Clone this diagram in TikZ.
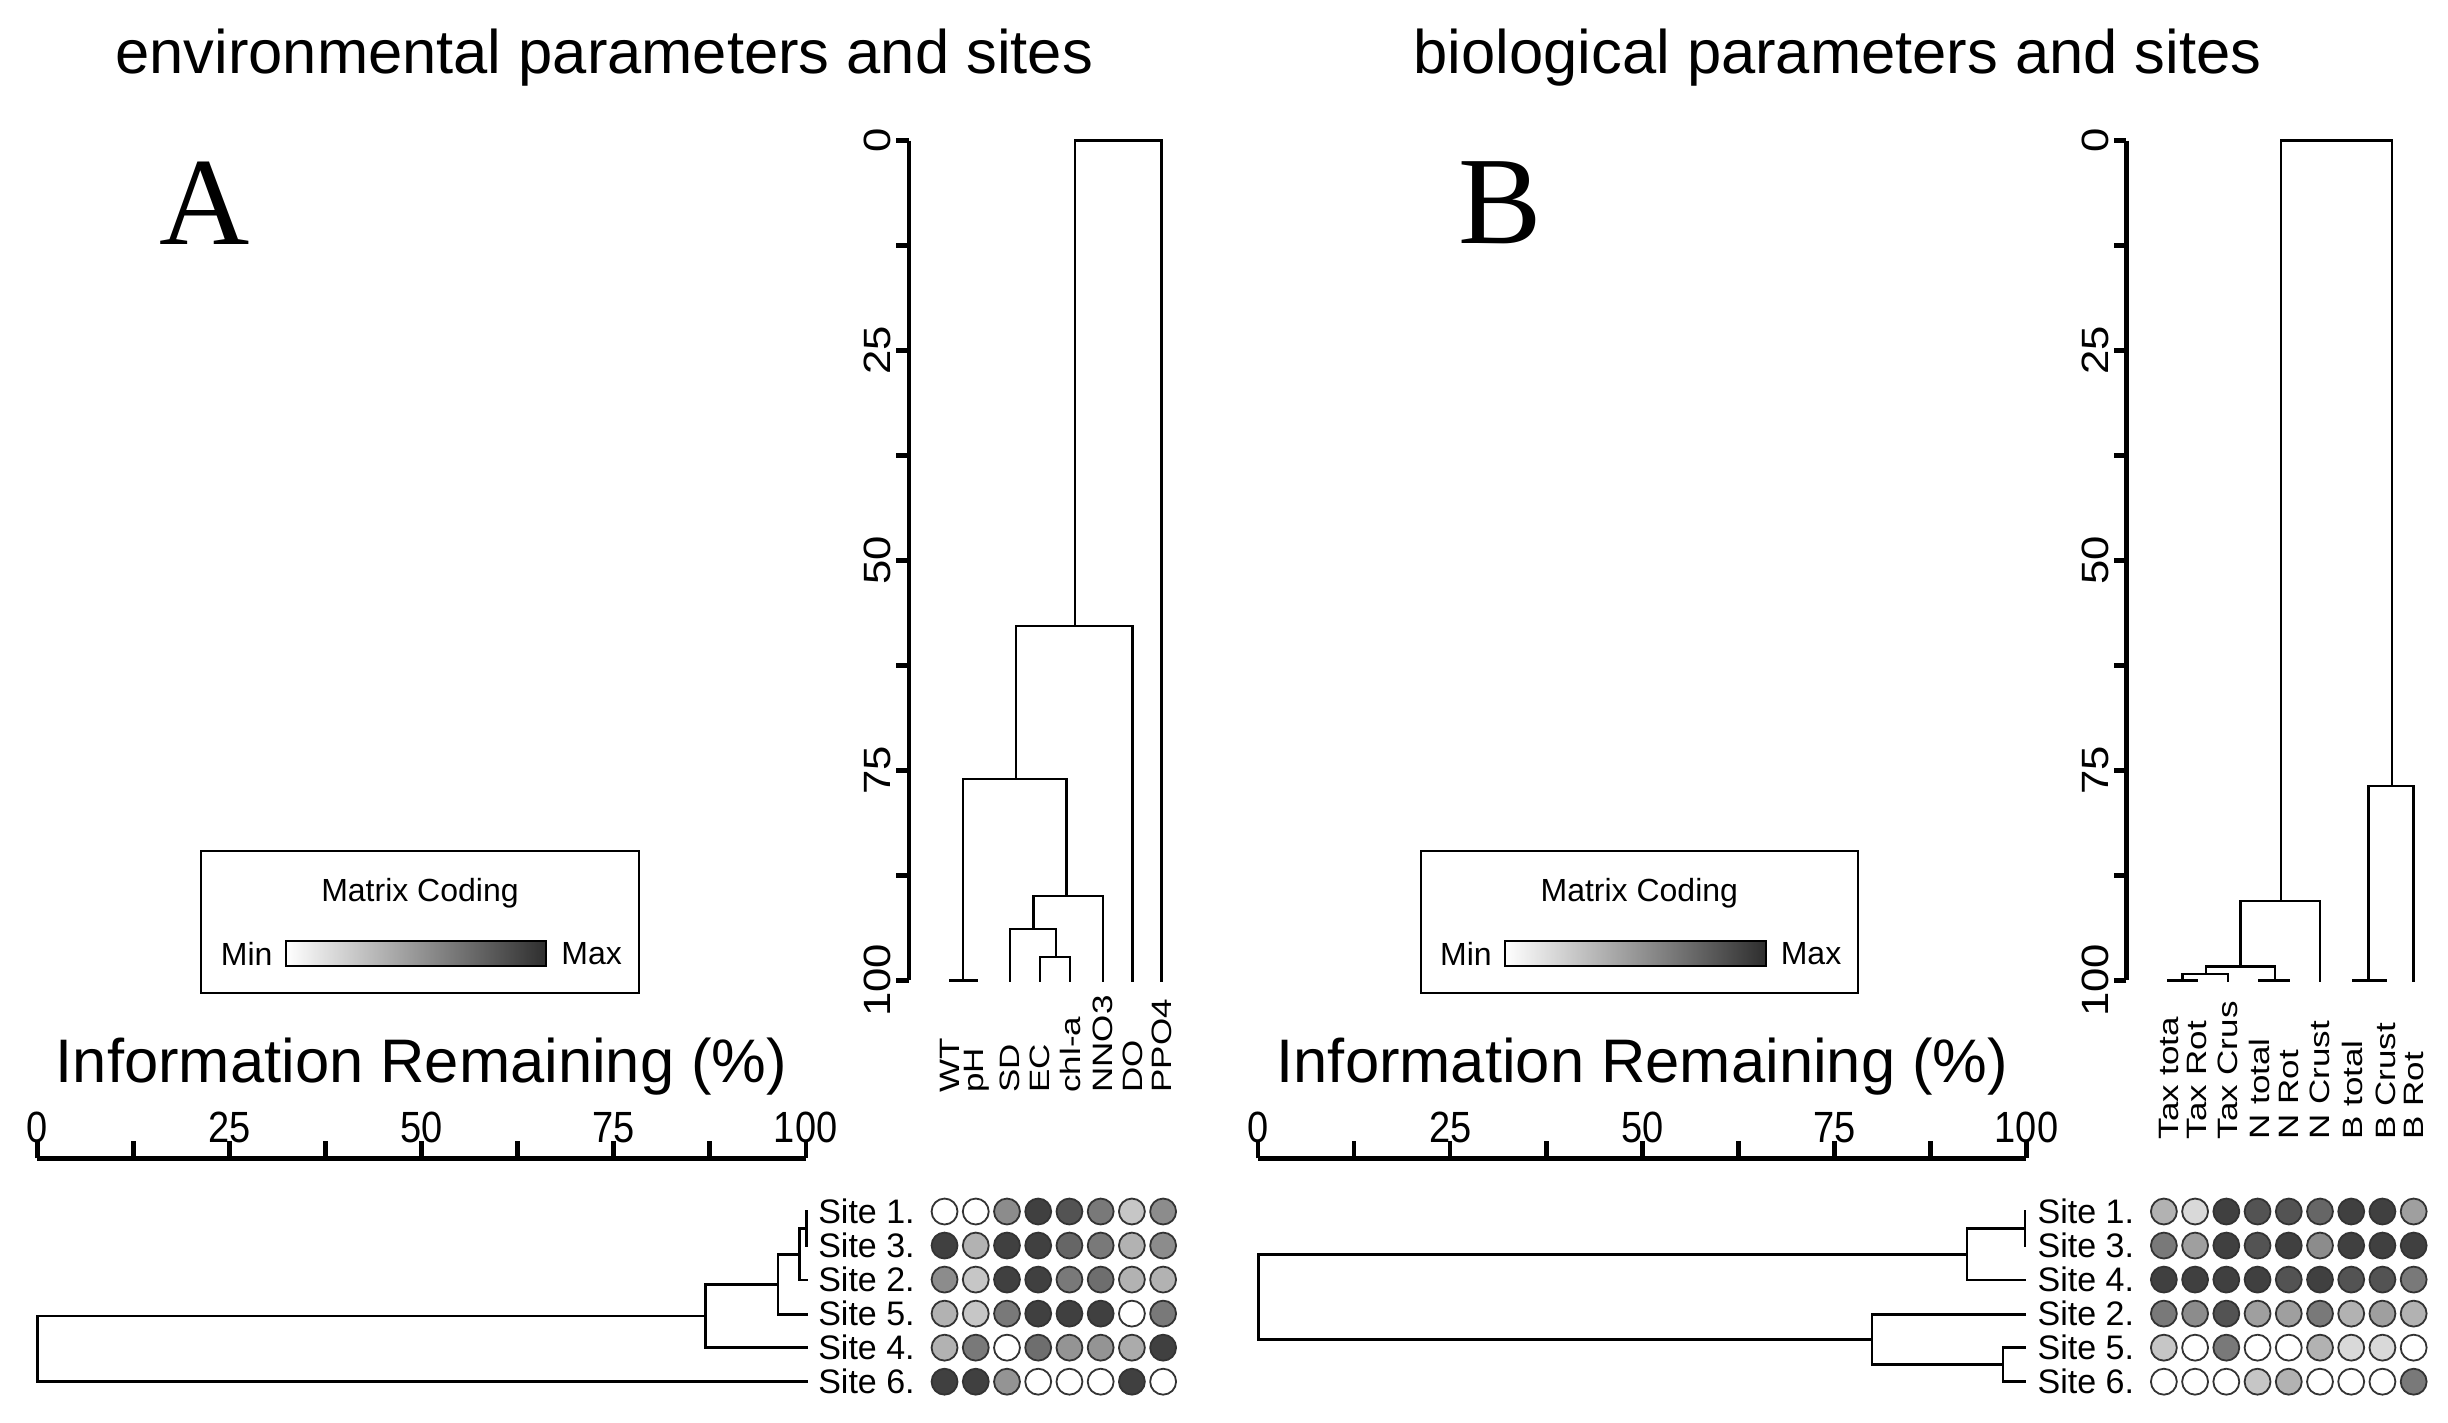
\documentclass[tikz,border=0pt]{standalone}
\usepackage{fontspec}
\setmainfont{Liberation Sans}
\newfontfamily\serifA{Liberation Serif}
\begin{document}
\begin{tikzpicture}[x=1.5612pt,y=-1.5612pt,
  dend/.style={line width=2.4pt,line cap=rect},
  ax/.style={line width=4.2pt},
  title/.style={font=\fontsize{61.5pt}{64pt}\selectfont},
  big/.style={font=\fontsize{61.5pt}{64pt}\selectfont},
  tick/.style={font=\fontsize{38pt}{40pt}\selectfont,inner sep=0pt,yscale=1.15},
  site/.style={font=\fontsize{34pt}{36pt}\selectfont,anchor=west,inner sep=0pt},
  par/.style={font=\fontsize{28pt}{30pt}\selectfont,anchor=west,rotate=90,inner sep=0pt,xscale=1.25},
  leg/.style={font=\fontsize{32pt}{34pt}\selectfont,inner sep=0pt},
  dot/.style={draw=black!80,line width=1.8pt}]
\useasboundingbox (0,0) rectangle (1568,911);
\fill[white] (0,0) rectangle (1568,911);
% titles
\node[title] (tA) at (387,37) {environmental parameters and sites};
\node[title] (tB) at (1177,37) {biological parameters and sites};
\node[font=\serifA\fontsize{125pt}{125pt}\selectfont] (lA) at (131,130) {A};
\node[font=\serifA\fontsize{125pt}{125pt}\selectfont] (lB) at (961,130) {B};
% legends
\foreach \ox/\nm in {0/A,781/B}{
  \begin{scope}[xshift=\ox*1.5612pt]
  \draw[line width=2pt] (129,545) rectangle (409,636);
  \node[leg] (mc\nm) at (269,572) {Matrix Coding};
  \node[leg] (mn\nm) at (158,611) {Min};
  \node[leg] (mx\nm) at (379,611) {Max};
  \shade[left color=white,right color=black!82] (183,603) rectangle (350,619);
  \draw[line width=2pt] (183,603) rectangle (350,619);
  \end{scope}}
% vertical axes
\foreach \axx/\nm in {582/A,1362/B}{
  \draw[ax] (\axx,90) -- (\axx,628);
  \foreach \k in {0,...,8} \draw[ax] (\axx,{90+\k*67.25}) -- ({\axx-8},{90+\k*67.25});
  \foreach \v/\k in {0/0,25/2,50/4,75/6,100/8}
    \node[tick,rotate=90] (va\nm\v) at ({\axx-20},{90+\k*67.25}) {\v};
}
% dendrogram A (vertical)
\draw[dend] (608.5,628)--(625.6,628) (617,628)--(617,499)--(683.2,499)--(683.2,574);
\draw[dend] (647,628)--(647,595)--(676.4,595)--(676.4,613);
\draw[dend] (666,628)--(666,613)--(685.4,613)--(685.4,628);
\draw[dend] (662,595)--(662,574)--(706.3,574)--(706.3,628);
\draw[dend] (650.8,499)--(650.8,401)--(725.5,401)--(725.5,628);
\draw[dend] (688.6,401)--(688.6,90)--(744,90)--(744,628);
% dendrogram B (vertical)
\draw[dend] (1389,628)--(1407,628) (1398,628)--(1398,624)--(1427,624)--(1427,628);
\draw[dend] (1413,624)--(1413,619)--(1457,619)--(1457,628) (1447,628)--(1466,628);
\draw[dend] (1435,619)--(1435,577)--(1486,577)--(1486,628);
\draw[dend] (1461,577)--(1461,90)--(1532,90)--(1532,503.5);
\draw[dend] (1517,628)--(1517,503.5)--(1546,503.5)--(1546,628) (1507,628)--(1528,628);
% parameter labels
\foreach \x/\t [count=\i] in {608.5/WT,625.6/pH,647/SD,666/EC,685.4/chl-a,706.3/NNO3,725.5/DO,744/PPO4}
  \node[par] (pa\i) at (\x,700) {\t};
\foreach \x/\t [count=\i] in {1389/Tax tota,1407/Tax Rot,1427/Tax Crus,1447/N total,1466/N Rot,1486/N Crust,1507/B total,1528/B Crust,1546/B Rot}
  \node[par] (pb\i) at (\x,730) {\t};
% bottom axes
\foreach \ox/\nm in {24/A,806/B}{
  \node[big] (ir\nm) at ({\ox+246},683) {Information Remaining (\%)};
  \draw[ax] (\ox,742) -- ({\ox+492},742);
  \foreach \k in {0,...,8} \draw[ax] ({\ox+\k*61.5},742) -- ({\ox+\k*61.5},731);
  \foreach \v/\k in {0/0,25/2,50/4,75/6,100/8}
    \node[tick] (ha\nm\v) at ({\ox+\k*61.5},722) {\v};
}
% bottom dendrogram A
\draw[dend] (516.5,776)--(516.5,798) (512,787)--(516.5,787) (512,787)--(512,820)--(516.5,820);
\draw[dend] (498.3,803.5)--(512,803.5) (498.3,803.5)--(498.3,842)--(516.5,842);
\draw[dend] (452,822.7)--(498.3,822.7) (452,822.7)--(452,863)--(516.5,863);
\draw[dend] (24,842.9)--(452,842.9) (24,842.9)--(24,885)--(516.5,885);
% bottom dendrogram B
\draw[dend] (1297,776)--(1297,798) (1260,787)--(1297,787) (1260,787)--(1260,820)--(1297,820);
\draw[dend] (1297,863)--(1283,863)--(1283,885)--(1297,885);
\draw[dend] (1199,874)--(1283,874) (1199,874)--(1199,842)--(1297,842);
\draw[dend] (806,803.5)--(1260,803.5) (806,803.5)--(806,858)--(1199,858);
% site labels
\foreach \t [count=\i] in {1,3,2,5,4,6}
  \node[site] (sa\i) at (524,{776+(\i-1)*21.8}) {Site \t.};
\foreach \t [count=\i] in {1,3,4,2,5,6}
  \node[site] (sb\i) at (1305,{776+(\i-1)*21.8}) {Site \t.};
% matrices
\foreach \row [count=\r] in {
  {0,0,3,5,4.5,3.5,1.5,3},
  {5,2,5,5,4,3.5,2,3},
  {3,1.5,5,5,3.5,3.8,2,2},
  {2,1.5,3.5,5,5,5,0,3.5},
  {2,3.5,0,3.8,2.8,2.8,2.2,5},
  {5,5,2.8,0,0,0,5,0}}{
  \foreach \L [count=\c] in \row {
    \pgfmathsetmacro\pc{\L*15}
    \filldraw[dot,fill=black!\pc] ({605+(\c-1)*20},{776+(\r-1)*21.8}) circle (8.3);
  }}
\foreach \row [count=\r] in {
  {2,1,5,4.5,4.5,4,5,5,2.5},
  {3.5,2.5,5,4.5,5,3,5,5,5},
  {5,5,5,5,4.5,5,4.5,4.5,3.5},
  {3.5,3,4.5,2.5,2.5,3.5,2,2.5,2},
  {1.5,0,3.5,0,0,2,1,1,0},
  {0,0,0,1.5,2,0,0,0,3.5}}{
  \foreach \L [count=\c] in \row {
    \pgfmathsetmacro\pc{\L*15}
    \filldraw[dot,fill=black!\pc] ({1386+(\c-1)*20},{776+(\r-1)*21.8}) circle (8.3);
  }}
\end{tikzpicture}
\end{document}
